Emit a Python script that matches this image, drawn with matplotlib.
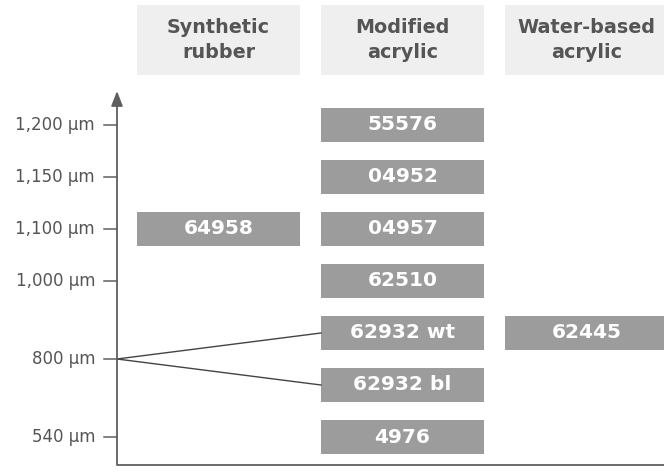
import matplotlib
matplotlib.use("Agg")
import matplotlib.pyplot as plt
from matplotlib.patches import Rectangle

# ---- data ----
columns = ["Synthetic\nrubber", "Modified\nacrylic", "Water-based\nacrylic"]
tick_labels = ["540 µm", "800 µm", "1,000 µm", "1,100 µm", "1,150 µm", "1,200 µm"]
tick_rows = [0, 1.5, 3, 4, 5, 6]          # row position of each thickness tick
products = ["64958", "55576", "04952", "04957", "62510", "62932 wt", "62932 bl", "4976", "62445"]
product_col = [0, 1, 1, 1, 1, 1, 1, 1, 2]
product_row = [4, 6, 5, 4, 3, 2, 1, 0, 2]
leader_targets = ["62932 wt", "62932 bl"]  # products tied to the 800 µm tick
leader_tick = "800 µm"

# ---- style ----
FONT = ["DejaVu Sans"]
BOX_C = "#9c9c9c"
HEAD_C = "#efefef"
TXT_C = "#555555"
LINE_C = "#5f5f5f"

W, H = 664, 473
fig = plt.figure(figsize=(W / 100, H / 100), dpi=100)
ax = fig.add_axes([0, 0, 1, 1])
col_px, col_x0 = 184.0, 218.5
row_px, row_y0 = 52.0, 36.0
ax.set_xlim((0 - col_x0) / col_px, (W - col_x0) / col_px)
ax.set_ylim((0 - row_y0) / row_px, (H - row_y0) / row_px)
ax.axis("off")

box_w = 163 / col_px
box_h = 34 / row_px
head_h = 70 / row_px
head_y = (H - 40 - row_y0) / row_px

# headers
for i, name in enumerate(columns):
    ax.add_patch(Rectangle((i - box_w / 2, head_y - head_h / 2), box_w, head_h,
                           facecolor=HEAD_C, edgecolor="none"))
    ax.text(i, head_y, name, ha="center", va="center", fontsize=13.8,
            fontweight="bold", color=TXT_C, family=FONT, linespacing=1.4)

# axis
axis_x = (117 - col_x0) / col_px
axis_bot = (H - 465 - row_y0) / row_px
axis_top = (H - 91 - row_y0) / row_px
ax.annotate("", xy=(axis_x, axis_top), xytext=(axis_x, axis_bot),
            arrowprops=dict(arrowstyle="-|>,head_length=0.9,head_width=0.35",
                            color=LINE_C, lw=1.3, shrinkA=0, shrinkB=0))
ax.plot([axis_x, ax.get_xlim()[1]], [axis_bot, axis_bot], color=LINE_C, lw=1.3,
        solid_capstyle="butt")

tick_len = 13 / col_px
for lab, r in zip(tick_labels, tick_rows):
    ax.plot([axis_x - tick_len, axis_x], [r, r], color=LINE_C, lw=1.1)
    ax.text(axis_x - 22 / col_px, r, lab, ha="right", va="center", fontsize=12,
            color=TXT_C, family=FONT)

# product boxes
for name, c, r in zip(products, product_col, product_row):
    ax.add_patch(Rectangle((c - box_w / 2, r - box_h / 2), box_w, box_h,
                           facecolor=BOX_C, edgecolor="none"))
    ax.text(c, r, name, ha="center", va="center", fontsize=14.5, fontweight="bold",
            color="white", family=FONT)

# leader lines
ty = tick_rows[tick_labels.index(leader_tick)]
for name in leader_targets:
    k = products.index(name)
    c, r = product_col[k], product_row[k]
    ax.plot([axis_x, c - box_w / 2], [ty, r], color="#444444", lw=1.0)

fig.savefig("out.png", dpi=100)
